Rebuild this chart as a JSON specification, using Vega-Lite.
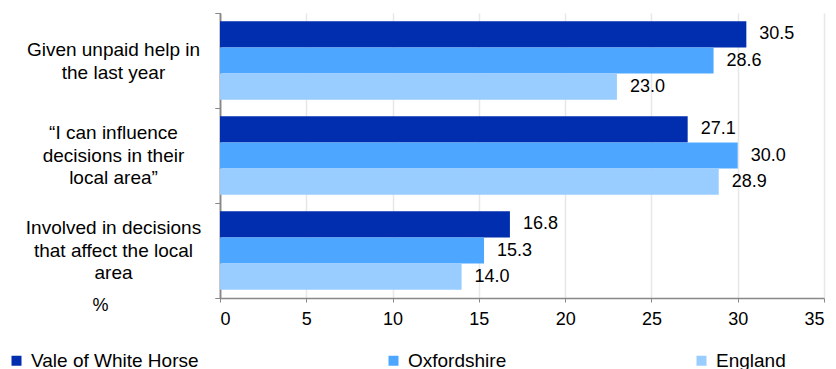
{
  "$schema": "https://vega.github.io/schema/vega-lite/v6.json",
  "width": 604,
  "height": 285,
  "autosize": {"type": "none"},
  "padding": {"left": 220, "top": 13, "right": 12, "bottom": 71},
  "config": {
    "font": "Liberation Sans",
    "view": {"stroke": null},
    "axisY": {
      "title": null,
      "orient": "left",
      "tickBand": "extent",
      "labelAlign": "center",
      "labelOffset": -11,
      "labelPadding": 102,
      "labelFontSize": 19,
      "labelLineHeight": 22.5,
      "labelColor": "#000000",
      "labelLimit": 300,
      "tickSize": 5,
      "tickColor": "#888888",
      "domainColor": "#888888",
      "domainWidth": 1.5,
      "grid": false
    }
  },
  "data": {
    "values": [
      {"question": "Given unpaid help in|the last year", "area": "Vale of White Horse", "value": 30.5},
      {"question": "Given unpaid help in|the last year", "area": "Oxfordshire", "value": 28.6},
      {"question": "Given unpaid help in|the last year", "area": "England", "value": 23.0},
      {"question": "“I can influence|decisions in their|local area”", "area": "Vale of White Horse", "value": 27.1},
      {"question": "“I can influence|decisions in their|local area”", "area": "Oxfordshire", "value": 30.0},
      {"question": "“I can influence|decisions in their|local area”", "area": "England", "value": 28.9},
      {"question": "Involved in decisions|that affect the local|area", "area": "Vale of White Horse", "value": 16.8},
      {"question": "Involved in decisions|that affect the local|area", "area": "Oxfordshire", "value": 15.3},
      {"question": "Involved in decisions|that affect the local|area", "area": "England", "value": 14.0}
    ]
  },
  "encoding": {
    "yOffset": {
      "field": "area",
      "type": "nominal",
      "scale": {"domain": ["Vale of White Horse", "Oxfordshire", "England"], "paddingInner": 0, "paddingOuter": 0.32}
    },
    "x": {
      "field": "value",
      "type": "quantitative",
      "scale": {"domain": [0, 35], "nice": false},
      "axis": {
        "title": "%",
        "titleX": -120,
        "titleY": 7,
        "titleBaseline": "middle",
        "titleAlign": "center",
        "titleFontWeight": "normal",
        "titleFontSize": 18,
        "titleColor": "#000000",
        "values": [0, 5, 10, 15, 20, 25, 30, 35],
        "labelFontSize": 18,
        "labelColor": "#000000",
        "labelPadding": 8,
        "tickSize": 4,
        "tickColor": "#888888",
        "domainColor": "#888888",
        "domainWidth": 1.5,
        "grid": true,
        "gridColor": "#e8e8e8",
        "gridWidth": 1.5
      }
    }
  },
  "resolve": {"axis": {"y": "independent"}},
  "layer": [
    {
      "mark": {"type": "bar"},
      "encoding": {
        "y": {
          "field": "question",
          "type": "nominal",
          "sort": null,
          "scale": {"paddingInner": 0, "paddingOuter": 0},
          "axis": {
            "orient": "left",
            "labelExpr": "indexof(datum.label, 'Given') >= 0 ? '' : split(datum.label, '|')",
            "labelBaseline": "line-bottom"
          }
        },
        "color": {
          "field": "area",
          "type": "nominal",
          "scale": {"domain": ["Vale of White Horse", "Oxfordshire", "England"], "range": ["#002EAE", "#4DA6FF", "#99CCFF"]},
          "legend": {
            "title": null,
            "orient": "none",
            "legendX": -213,
            "legendY": 338,
            "direction": "horizontal",
            "columns": 3,
            "columnPadding": 185,
            "symbolType": "square",
            "symbolSize": 100,
            "symbolStrokeWidth": 0,
            "labelFontSize": 19,
            "labelColor": "#000000",
            "labelOffset": 5,
            "labelLimit": 300
          }
        }
      }
    },
    {
      "mark": {"type": "text", "align": "left", "baseline": "middle", "dx": 13, "fontSize": 18, "color": "#000000"},
      "encoding": {
        "y": {
          "field": "question",
          "type": "nominal",
          "sort": null,
          "scale": {"paddingInner": 0, "paddingOuter": 0},
          "axis": {
            "orient": "left",
            "labelExpr": "indexof(datum.label, 'Given') >= 0 ? split(datum.label, '|') : ''",
            "labelBaseline": "middle"
          }
        },
        "text": {"field": "value", "type": "quantitative", "format": ".1f"}
      }
    }
  ]
}
